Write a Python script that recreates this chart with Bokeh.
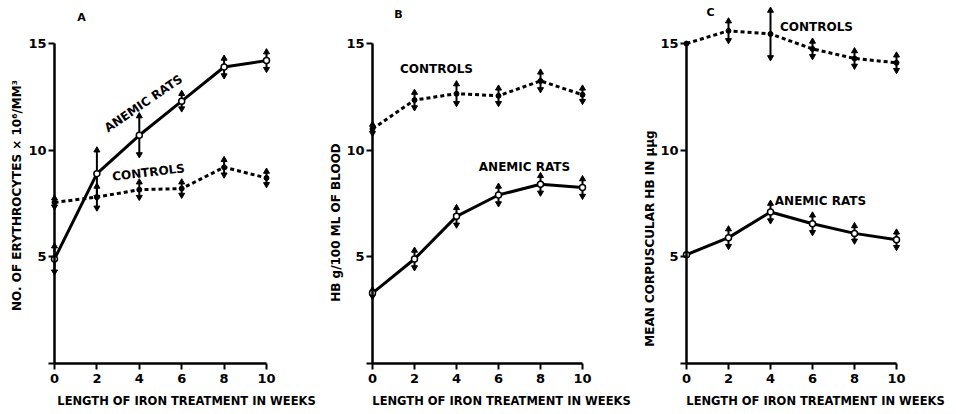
import math
from bokeh.plotting import figure
from bokeh.layouts import row
from bokeh.models import Label, FixedTicker, Range1d
from bokeh.embed import file_html
from bokeh.resources import INLINE

# ---------------- data ----------------
weeks = [0, 2, 4, 6, 8, 10]
y_ticks = [0, 5, 10, 15]
x_ticks = [0, 2, 4, 6, 8, 10]

# Panel A: erythrocytes x10^6 / mm^3
a_anemic = [4.9, 8.9, 10.7, 12.3, 13.9, 14.2]
a_anemic_err = [0.6, 1.1, 0.9, 0.35, 0.4, 0.4]
a_controls = [7.55, 7.8, 8.15, 8.2, 9.2, 8.7]
a_controls_err = [0.2, 0.5, 0.35, 0.3, 0.35, 0.3]

# Panel B: Hb g/100 ml of blood
b_anemic = [3.3, 4.9, 6.9, 7.9, 8.4, 8.25]
b_anemic_err = [0.15, 0.4, 0.4, 0.4, 0.4, 0.4]
b_controls = [11.0, 12.35, 12.65, 12.55, 13.25, 12.6]
b_controls_err = [0.2, 0.35, 0.45, 0.35, 0.4, 0.3]

# Panel C: mean corpuscular Hb in µµg
c_anemic = [5.1, 5.9, 7.1, 6.55, 6.1, 5.8]
c_anemic_err = [0.0, 0.4, 0.4, 0.4, 0.35, 0.35]
c_controls = [15.0, 15.6, 15.45, 14.75, 14.3, 14.1]
c_controls_err = [0.0, 0.45, 1.1, 0.35, 0.35, 0.35]

FONT = "DejaVu Sans"
FIG_H = 412
PAGE_TOP = 0            # picture y of figure top
Y0_PAGE = 363           # picture y of data y=0
PX_Y = 21.33            # pixels per y unit


def errbars(p, xs, ys, es):
    keep = [i for i, e in enumerate(es) if e > 0]
    xs2 = [xs[i] for i in keep]
    top = [ys[i] + es[i] for i in keep]
    bot = [ys[i] - es[i] for i in keep]
    p.segment(x0=xs2, y0=bot, x1=xs2, y1=top, line_color="black", line_width=2)
    p.scatter(xs2, top, marker="triangle", size=6, color="black")
    p.scatter(xs2, bot, marker="inverted_triangle", size=6, color="black")


def panel(fig_left, fig_width, x0_page, px_x, letter, letter_pos, ylabel, ylabel_pos,
          xlabel_pos, anemic, anemic_err, controls, controls_err,
          an_pos, an_angle, co_pos, co_angle):
    # convert picture pixel positions to data positions for this panel
    def dx(px):
        return (px - x0_page) / px_x

    def dy(py):
        return (Y0_PAGE - py) / PX_Y

    p = figure(width=fig_width, height=FIG_H,
               x_range=Range1d(dx(fig_left), dx(fig_left + fig_width)),
               y_range=Range1d(dy(PAGE_TOP + FIG_H), dy(PAGE_TOP)),
               min_border=0, min_border_left=0, min_border_right=0,
               min_border_top=0, min_border_bottom=0,
               output_backend="svg", toolbar_location=None)
    p.outline_line_color = None
    p.grid.visible = False
    p.background_fill_color = "white"
    p.border_fill_color = "white"
    for ax in (p.xaxis[0], p.yaxis[0]):
        ax.fixed_location = 0
        ax.axis_line_width = 2.5
        ax.axis_line_color = "black"
        ax.major_tick_line_width = 2
        ax.major_tick_in = 0
        ax.major_tick_out = 6
        ax.minor_tick_line_color = None
        ax.major_label_text_font = FONT
        ax.major_label_text_font_style = "bold"
        ax.major_label_text_font_size = "13px"
        ax.major_label_text_color = "black"
    p.xaxis[0].ticker = FixedTicker(ticks=x_ticks)
    p.xaxis[0].bounds = (0, 10)
    p.xaxis[0].major_label_standoff = 4
    p.yaxis[0].ticker = FixedTicker(ticks=y_ticks)
    p.yaxis[0].bounds = (0, 15)
    p.yaxis[0].major_label_overrides = {0: ""}
    p.yaxis[0].major_label_text_baseline = "bottom"
    p.yaxis[0].major_label_standoff = 2

    # controls: dotted line with filled dots
    p.line(weeks, controls, line_color="black", line_width=3, line_dash="4 3")
    errbars(p, weeks, controls, controls_err)
    p.scatter(weeks, controls, size=5, color="black")
    # anemic rats: solid line with open circles
    p.line(weeks, anemic, line_color="black", line_width=3)
    errbars(p, weeks, anemic, anemic_err)
    p.scatter(weeks, anemic, size=6, fill_color="white", line_color="black", line_width=1.5)

    def label(text, pos, angle=0.0, size="12px"):
        p.add_layout(Label(x=dx(pos[0]), y=dy(pos[1]), text=text, angle=angle,
                           text_align="center", text_baseline="middle",
                           text_font=FONT, text_font_size=size,
                           text_font_style="bold", text_color="black"))

    label(letter, letter_pos, size="11px")
    label(ylabel, ylabel_pos, angle=math.pi / 2, size="12px")
    label("LENGTH OF IRON TREATMENT IN WEEKS", xlabel_pos, size="11.5px")
    label("ANEMIC RATS", an_pos, angle=an_angle, size="12px")
    label("CONTROLS", co_pos, angle=co_angle, size="12px")
    return p


pa = panel(0, 326, 54, 21.2, "A", (81, 17), "NO. OF ERYTHROCYTES × 10⁶/MM³", (16, 195), (186, 400),
           a_anemic, a_anemic_err, a_controls, a_controls_err,
           (143, 103), 0.60, (148, 172), 0.12)
pb = panel(326, 314, 372, 21.0, "B", (398, 14), "HB g/100 ML OF BLOOD", (335, 222), (501, 400),
           b_anemic, b_anemic_err, b_controls, b_controls_err,
           (524, 166), 0.0, (436, 68), 0.0)
pc = panel(640, 314, 686, 21.0, "C", (710, 12), "MEAN CORPUSCULAR HB IN μμg", (649, 238), (815, 400),
           c_anemic, c_anemic_err, c_controls, c_controls_err,
           (820, 200), 0.0, (816, 26), 0.0)

layout = row(pa, pb, pc)
open("out.html", "w").write(file_html(layout, INLINE))
